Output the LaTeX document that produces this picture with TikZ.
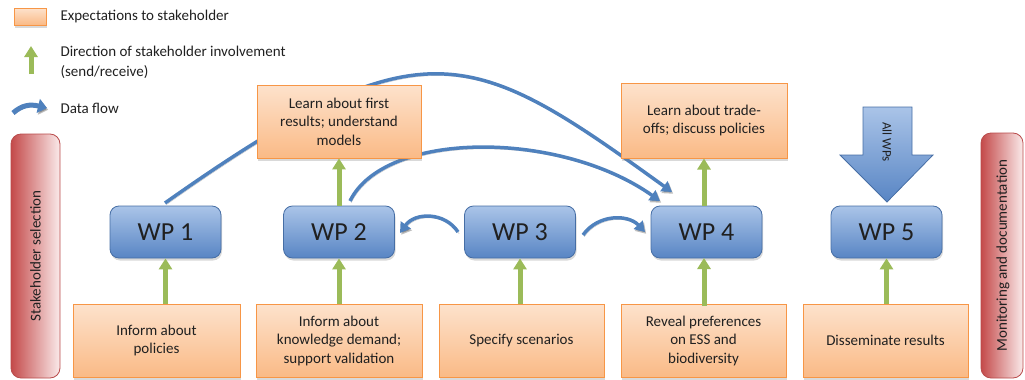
\documentclass[tikz,border=0pt]{standalone}
\usepackage{fontspec}
\setmainfont{Carlito}
\usetikzlibrary{arrows.meta,shadows}

\definecolor{ink}{RGB}{32,32,32}
\definecolor{orangeedge}{RGB}{247,150,70}
\definecolor{orangetop}{RGB}{253,226,204}
\definecolor{orangebot}{RGB}{250,186,134}
\definecolor{bluetop}{RGB}{170,196,232}
\definecolor{bluebot}{RGB}{88,133,196}
\definecolor{blueedge}{RGB}{70,110,165}
\definecolor{flowblue}{RGB}{79,129,189}
\definecolor{leaf}{RGB}{155,187,89}
\definecolor{redleft}{RGB}{196,74,74}
\definecolor{redright}{RGB}{250,234,234}
\definecolor{rededge}{RGB}{185,75,75}

\pgfdeclarelayer{back}
\pgfsetlayers{back,main}

\begin{document}
\begin{tikzpicture}[x=1pt,y=-1pt,
  txt/.style={text=ink, font=\fontsize{15}{18.5}\selectfont},
  boxshadow/.style={drop shadow={shadow xshift=1pt, shadow yshift=-2.5pt, opacity=0.3}},
  expect/.style={txt, draw=orangeedge, line width=0.8pt, top color=orangetop,
    bottom color=orangebot, align=center, inner sep=0pt, boxshadow},
  wpbox/.style={draw=blueedge, line width=0.8pt, rounded corners=9pt,
    top color=bluetop, bottom color=bluebot, minimum width=111pt,
    minimum height=52pt, text=ink, font=\fontsize{26}{30}\selectfont, boxshadow},
  bar/.style={draw=rededge, line width=0.8pt, rounded corners=10pt,
    left color=redleft, right color=redright, inner sep=0pt},
  involve/.style={draw=leaf, line width=5pt, -{Triangle[length=11pt,width=13pt]}},
  flow/.style={preaction={draw=black, opacity=0.25,
      transform canvas={shift={(1.2pt,-1.8pt)}}},
    draw=flowblue, line width=3.5pt, -{Triangle[length=10pt,width=12pt]}}
]
\useasboundingbox (0,0) rectangle (1025,380);

% legend
\node[expect, minimum width=32pt, minimum height=17pt] (legbox) at (30,16.5) {};
\node[txt, anchor=west] (legboxtxt) at (57,17) {Expectations to stakeholder};
\coordinate (leggreenA) at (31,74);
\coordinate (leggreenB) at (31,46);
\draw[involve] (leggreenA) -- (leggreenB);
\node[txt, anchor=west, align=left, font=\fontsize{15}{20}\selectfont] (leggreentxt) at (57,62)
  {Direction of stakeholder involvement\\(send/receive)};
\coordinate (legflowA) at (13,113);
\coordinate (legflowB) at (47,108);
\draw[flow, line width=5pt, -{Triangle[length=9pt,width=14pt]}]
  (legflowA) .. controls (22,105) and (30,104) .. (legflowB);
\node[txt, anchor=west] (legflowtxt) at (57,108) {Data flow};

% side bars
\node[bar, minimum width=49pt, minimum height=244pt] (selbar) at (35.5,256) {};
\node[txt, rotate=90] (seltxt) at (selbar.center) {Stakeholder selection};
\node[bar, minimum width=42pt, minimum height=245pt] (monbar) at (1002,255.5) {};
\node[txt, rotate=90] (montxt) at (1003,255.5) {Monitoring and documentation};

% work packages
\node[wpbox] (wp1) at (165.5,232) {WP 1};
\node[wpbox] (wp2) at (339,232) {WP 2};
\node[wpbox] (wp3) at (520,232) {WP 3};
\node[wpbox] (wp4) at (706.5,232) {WP 4};
\node[wpbox] (wp5) at (886.5,232) {WP 5};

% expectations above
\node[expect, minimum width=164pt, minimum height=73pt] (tA) at (339,121.5)
  {Learn about first\\results; understand\\models};
\node[expect, minimum width=166pt, minimum height=75pt] (tB) at (704,120.5)
  {Learn about trade-\\offs; discuss policies};

% expectations below
\node[expect, minimum width=167pt, minimum height=73pt] (b1) at (156.5,340.5)
  {Inform about\\policies};
\node[expect, minimum width=166pt, minimum height=73pt] (b2) at (339,340.5)
  {Inform about\\knowledge demand;\\support validation};
\node[expect, minimum width=165pt, minimum height=73pt] (b3) at (521.5,340.5)
  {Specify scenarios};
\node[expect, minimum width=165pt, minimum height=73pt] (b4) at (703.5,340.5)
  {Reveal preferences\\on ESS and\\biodiversity};
\node[expect, minimum width=165pt, minimum height=73pt] (b5) at (885.5,340.5)
  {Disseminate results};

% stakeholder involvement
\draw[involve] (wp1.south |- b1.north) -- (wp1.south);
\draw[involve] (wp2.south |- b2.north) -- (wp2.south);
\draw[involve] (wp3.south |- b3.north) -- (wp3.south);
\draw[involve] (704,306) -- (704,258);
\draw[involve] (wp5.south |- b5.north) -- (wp5.south);
\draw[involve] (wp2.north) -- (wp2.north |- tA.south);
\draw[involve] (704,206) -- (704,158.5);

% all work packages feed WP 5
\path[draw=blueedge, line width=0.8pt, top color=bluetop, bottom color=bluebot]
  (863,107) -- (912,107) -- (912,155) -- (933,155) -- (887,202)
  -- (840,155) -- (863,155) -- cycle;
\node[text=ink, font=\fontsize{13}{15}\selectfont, rotate=-90] (allwps) at (887,142) {All WPs};

% data flow
\coordinate (f1s) at (165,203);
\coordinate (f1e) at (672,192);
\coordinate (f2s) at (350,201);
\coordinate (f2e) at (660,201);
\coordinate (f3s) at (458,232);
\coordinate (f3e) at (400,233);
\coordinate (f4s) at (583,235);
\coordinate (f4e) at (645,232);
\begin{pgfonlayer}{back}
\draw[flow] (f1s) .. controls (423,21) and (470,46) .. (f1e);
\draw[flow] (f2s) .. controls (385,130) and (560,130) .. (f2e);
\draw[flow] (f3s) .. controls (445,212) and (415,212) .. (f3e);
\draw[flow] (f4s) .. controls (598,214) and (628,214) .. (f4e);
\end{pgfonlayer}
\end{tikzpicture}
\end{document}
